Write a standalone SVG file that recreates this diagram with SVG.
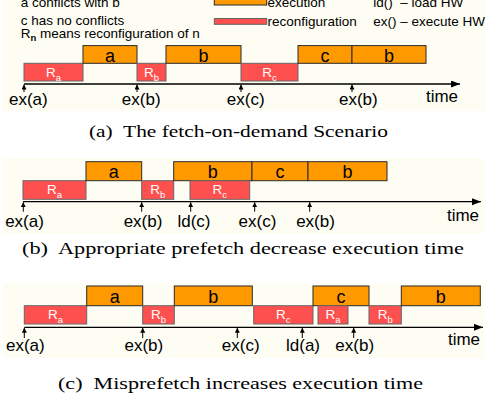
<svg xmlns="http://www.w3.org/2000/svg" width="486" height="402" viewBox="0 0 486 402">
<defs>
<style>
.bg{fill:#fdfdf3}
.ex{fill:#ff9900;stroke:#2a2a2a;stroke-width:1}
.rc{fill:#ff5050;stroke:#666;stroke-width:1}
.lt{font-family:"Liberation Sans",Arial,sans-serif;font-size:18px;fill:#000;text-anchor:middle}
.rt{font-family:"Liberation Sans",Arial,sans-serif;font-size:13.5px;fill:#fff;text-anchor:middle}
.sub{font-size:9.5px}
.lab{font-family:"Liberation Sans",Arial,sans-serif;font-size:17px;fill:#000;text-anchor:middle}
.leg{font-family:"Liberation Sans",Arial,sans-serif;font-size:13.5px;fill:#000}
.cap{font-family:"Liberation Serif","Times New Roman",serif;font-size:17px;fill:#000}
.axis{stroke:#000;stroke-width:1.3;fill:none}
.tick{stroke:#000;stroke-width:1;fill:none}
</style>
<marker id="ah" markerUnits="userSpaceOnUse" markerWidth="10" markerHeight="8" refX="9" refY="3.5" orient="auto"><path d="M0,0 L9,3.5 L0,7 z" fill="#000"/></marker>
<marker id="th" markerUnits="userSpaceOnUse" markerWidth="6" markerHeight="6" refX="5" refY="2.5" orient="auto"><path d="M0,0 L5,2.5 L0,5 z" fill="#000"/></marker>
</defs>
<rect width="486" height="402" fill="#fff"/>
<rect class="bg" x="2" y="0" width="483" height="111"/>
<rect class="bg" x="3" y="158" width="481" height="76"/>
<rect class="bg" x="3" y="283" width="481" height="75"/>

<g id="legend">
<text class="leg" x="20.7" y="7">a conflicts with b</text>
<text class="leg" x="20.7" y="24.5">c has no conflicts</text>
<text class="leg" x="20.7" y="38">R<tspan font-size="9.5" font-weight="bold" dy="2.5">n</tspan><tspan dy="-2.5"> means reconfiguration of n</tspan></text>
<rect class="ex" x="214.3" y="-1" width="52.4" height="6"/>
<text class="leg" x="267.5" y="7">execution</text>
<rect class="rc" x="214.3" y="18.5" width="52.4" height="5.8"/>
<text class="leg" x="267.5" y="26">reconfiguration</text>
<text class="leg" x="373.3" y="7" xml:space="preserve">ld()  – load HW</text>
<text class="leg" x="373.3" y="25.5">ex() – execute HW</text>
</g>

<!-- Panel (a) -->
<g id="a-Ra"><rect class="rc" x="24" y="63.3" width="59" height="17.7"/><text class="rt" x="53.5" y="76.5">R<tspan class="sub" dy="4">a</tspan></text></g>
<g id="a-a"><rect class="ex" x="83" y="45.6" width="54" height="17.7"/><text class="lt" x="110" y="61.5">a</text></g>
<g id="a-Rb"><rect class="rc" x="137" y="63.3" width="29" height="17.7"/><text class="rt" x="151.5" y="76.5">R<tspan class="sub" dy="4">b</tspan></text></g>
<g id="a-b"><rect class="ex" x="166" y="45.6" width="75" height="17.7"/><text class="lt" x="203.5" y="61.5">b</text></g>
<g id="a-Rc"><rect class="rc" x="241" y="63.3" width="57" height="17.7"/><text class="rt" x="269.5" y="76.5">R<tspan class="sub" dy="4">c</tspan></text></g>
<g id="a-c"><rect class="ex" x="298" y="45.6" width="54" height="17.7"/><text class="lt" x="325" y="61.5">c</text></g>
<g id="a-b2"><rect class="ex" x="352" y="45.6" width="74" height="17.7"/><text class="lt" x="389" y="61.5">b</text></g>

<!-- Panel (b) -->
<g id="b-Ra"><rect class="rc" x="23" y="180.7" width="63" height="18.6"/><text class="rt" x="54.5" y="194">R<tspan class="sub" dy="4">a</tspan></text></g>
<g id="b-a"><rect class="ex" x="86" y="161.7" width="55.7" height="19"/><text class="lt" x="113.8" y="178.3">a</text></g>
<g id="b-Rb"><rect class="rc" x="141.7" y="180.7" width="32" height="18.6"/><text class="rt" x="157.7" y="194">R<tspan class="sub" dy="4">b</tspan></text></g>
<g id="b-b"><rect class="ex" x="173.7" y="161.7" width="78.3" height="19"/><text class="lt" x="212.8" y="178.3">b</text></g>
<g id="b-Rc"><rect class="rc" x="190" y="180.7" width="59.7" height="18.6"/><text class="rt" x="219.8" y="194">R<tspan class="sub" dy="4">c</tspan></text></g>
<g id="b-c"><rect class="ex" x="252" y="161.7" width="56" height="19"/><text class="lt" x="280" y="178.3">c</text></g>
<g id="b-b2"><rect class="ex" x="308" y="161.7" width="79" height="19"/><text class="lt" x="347.5" y="178.3">b</text></g>

<!-- Panel (c) -->
<g id="c-Ra"><rect class="rc" x="24.3" y="305.7" width="62.4" height="18.3"/><text class="rt" x="55.5" y="319">R<tspan class="sub" dy="4">a</tspan></text></g>
<g id="c-a"><rect class="ex" x="86.7" y="286" width="56" height="19.7"/><text class="lt" x="114.7" y="303.3">a</text></g>
<g id="c-Rb"><rect class="rc" x="142.7" y="305.7" width="31.6" height="18.3"/><text class="rt" x="158.5" y="319">R<tspan class="sub" dy="4">b</tspan></text></g>
<g id="c-b"><rect class="ex" x="174.3" y="286" width="78" height="19.7"/><text class="lt" x="213.3" y="303.3">b</text></g>
<g id="c-Rc"><rect class="rc" x="253.7" y="305.7" width="59.3" height="18.3"/><text class="rt" x="283.3" y="319">R<tspan class="sub" dy="4">c</tspan></text></g>
<g id="c-c"><rect class="ex" x="313" y="286" width="56" height="19.7"/><text class="lt" x="341" y="303.3">c</text></g>
<g id="c-Ra2"><rect class="rc" x="318" y="305.7" width="30" height="18.3"/><text class="rt" x="333" y="319">R<tspan class="sub" dy="4">a</tspan></text></g>
<g id="c-Rb2"><rect class="rc" x="369" y="305.7" width="32.3" height="18.3"/><text class="rt" x="385.2" y="319">R<tspan class="sub" dy="4">b</tspan></text></g>
<g id="c-b2"><rect class="ex" x="401.3" y="286" width="79" height="19.7"/><text class="lt" x="440.8" y="303.3">b</text></g>

<g id="connectors">
<line class="axis" x1="24" y1="84" x2="460" y2="84" marker-end="url(#ah)"/>
<line class="tick" x1="24" y1="92" x2="24" y2="84.5" marker-end="url(#th)"/>
<line class="tick" x1="137" y1="92" x2="137" y2="84.5" marker-end="url(#th)"/>
<line class="tick" x1="241" y1="92" x2="241" y2="84.5" marker-end="url(#th)"/>
<line class="tick" x1="352" y1="92" x2="352" y2="84.5" marker-end="url(#th)"/>

<line class="axis" x1="23" y1="201.7" x2="481" y2="201.7" marker-end="url(#ah)"/>
<line class="tick" x1="23.3" y1="211.7" x2="23.3" y2="202.2" marker-end="url(#th)"/>
<line class="tick" x1="141.7" y1="211.7" x2="141.7" y2="202.2" marker-end="url(#th)"/>
<line class="tick" x1="190.7" y1="211.7" x2="190.7" y2="202.2" marker-end="url(#th)"/>
<line class="tick" x1="254.7" y1="211.7" x2="254.7" y2="202.2" marker-end="url(#th)"/>
<line class="tick" x1="309.7" y1="211.7" x2="309.7" y2="202.2" marker-end="url(#th)"/>

<line class="axis" x1="24.3" y1="327.3" x2="483" y2="327.3" marker-end="url(#ah)"/>
<line class="tick" x1="24.3" y1="338" x2="24.3" y2="327.8" marker-end="url(#th)"/>
<line class="tick" x1="142.7" y1="338" x2="142.7" y2="327.8" marker-end="url(#th)"/>
<line class="tick" x1="237.3" y1="338" x2="237.3" y2="327.8" marker-end="url(#th)"/>
<line class="tick" x1="302.3" y1="338" x2="302.3" y2="327.8" marker-end="url(#th)"/>
<line class="tick" x1="353.7" y1="338" x2="353.7" y2="327.8" marker-end="url(#th)"/>
</g>

<g id="labels">
<text class="lab" x="28.3" y="105">ex(a)</text>
<text class="lab" x="141.2" y="105">ex(b)</text>
<text class="lab" x="245.7" y="105">ex(c)</text>
<text class="lab" x="358.3" y="105">ex(b)</text>
<text class="lab" x="442" y="102">time</text>

<text class="lab" x="24.5" y="226.5">ex(a)</text>
<text class="lab" x="143" y="226.5">ex(b)</text>
<text class="lab" x="194" y="226.5">ld(c)</text>
<text class="lab" x="257.5" y="226.5">ex(c)</text>
<text class="lab" x="315.5" y="226.5">ex(b)</text>
<text class="lab" x="463" y="221">time</text>

<text class="lab" x="25.3" y="350.5">ex(a)</text>
<text class="lab" x="143.8" y="350.5">ex(b)</text>
<text class="lab" x="240.7" y="350.5">ex(c)</text>
<text class="lab" x="303" y="350.5">ld(a)</text>
<text class="lab" x="354.7" y="350.5">ex(b)</text>
<text class="lab" x="464" y="345">time</text>
</g>

<g id="captions">
<text class="cap" x="89" y="137" textLength="299" lengthAdjust="spacingAndGlyphs" xml:space="preserve">(a)  The fetch-on-demand Scenario</text>
<text class="cap" x="22" y="254" textLength="442" lengthAdjust="spacingAndGlyphs" xml:space="preserve">(b)  Appropriate prefetch decrease execution time</text>
<text class="cap" x="58" y="389" textLength="365" lengthAdjust="spacingAndGlyphs" xml:space="preserve">(c)  Misprefetch increases execution time</text>
</g>
</svg>
